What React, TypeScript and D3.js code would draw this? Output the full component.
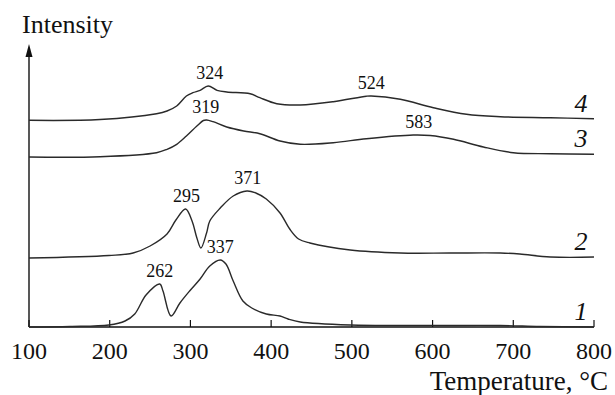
import React from "react";
import * as d3 from "d3";

// temperature (°C) and intensity (arb. units)
const temps1 = [100, 151, 199, 219, 231, 245, 262, 266, 276, 287, 299, 312, 324, 337, 344, 353, 365, 376, 394, 411, 421, 436, 498, 584, 684, 733, 800];
const int1 = [0, 0.5, 2, 6, 13, 32, 43, 36, 11, 24, 36, 48, 61, 67, 63, 46, 26, 19, 13, 11, 8, 5, 2, 1.5, 1.5, 0.5, 0];

const temps2 = [100, 199, 229, 250, 271, 282, 294, 302, 308, 313, 320, 324, 337, 353, 370, 381, 394, 411, 423, 434, 448, 498, 560, 622, 684, 708, 746, 800];
const int2 = [69, 71.5, 74, 81, 93, 107, 118, 106, 89, 79, 94, 106, 119, 131, 136, 134, 128, 114, 98, 88, 84, 77, 74, 74, 74, 73, 70, 70];

const temps3 = [100, 188, 258, 271, 283, 295, 308, 316, 320, 328, 345, 366, 386, 411, 436, 477, 518, 576, 597, 626, 663, 700, 746, 800];
const int3 = [170, 170.3, 174.3, 177.7, 182.7, 191, 201, 206.5, 207, 205.3, 200, 196, 193.3, 186, 182.7, 184.3, 188.3, 192, 191.5, 187.7, 180, 174.3, 173.3, 172.7];

const temps4 = [100, 188, 258, 271, 283, 295, 303, 312, 322, 333, 345, 374, 386, 407, 436, 477, 518, 524, 560, 601, 642, 684, 746, 800];
const int4 = [206.7, 207.5, 213.3, 216, 221, 231, 234.3, 236.7, 241, 236.7, 235, 233.3, 229.3, 223.3, 222, 225.3, 230.8, 231, 227.7, 219.3, 212.7, 210.3, 209.3, 208.3];

const seriesNames = ["1", "2", "3", "4"];
const peakLabels = [[262, 337], [295, 371], [319, 583], [324, 524]];
const xTicks = [100, 200, 300, 400, 500, 600, 700, 800];

const seriesTemps = [temps1, temps2, temps3, temps4];
const seriesInts = [int1, int2, int3, int4];

const W = 615;
const H = 395;
const serif = "'Liberation Serif', 'Times New Roman', serif";
const txt = { fontFamily: serif, fill: "#111" };

export default function App() {
  const x = d3.scaleLinear().domain([100, 800]).range([29, 594]);
  const y = d3.scaleLinear().domain([0, 280]).range([327, 47]);

  const line = d3
    .line<[number, number]>()
    .x((d) => x(d[0]))
    .y((d) => y(d[1]))
    .curve(d3.curveCatmullRom.alpha(0.5));

  const axisY = y(0);

  return (
    <svg
      width={W}
      height={H}
      style={{ position: "absolute", left: 0, top: 0, background: "#fff", fontFamily: serif }}
    >
      {/* y axis with arrow */}
      <line x1={x(100)} x2={x(100)} y1={axisY} y2={50} stroke="#111" strokeWidth={1.4} />
      <path
        d={`M${x(100)},${44} L${x(100) - 3.5},${57} L${x(100) + 3.5},${57} Z`}
        fill="#111"
      />
      <text x={22} y={33} fontSize={26} style={txt}>
        Intensity
      </text>

      {/* x axis */}
      <line x1={x(100)} x2={x(800)} y1={axisY} y2={axisY} stroke="#111" strokeWidth={1.4} />
      {xTicks.map((t) => (
        <g key={t}>
          <line x1={x(t)} x2={x(t)} y1={axisY} y2={axisY - 7} stroke="#111" strokeWidth={1.2} />
          <text x={x(t)} y={359} fontSize={24} textAnchor="middle" style={txt}>
            {t}
          </text>
        </g>
      ))}
      <text x={608} y={390} fontSize={27} textAnchor="end" style={txt}>
        Temperature, °C
      </text>

      {/* curves */}
      {seriesTemps.map((temps, i) => {
        const pts = temps.map((t, j) => [t, seriesInts[i][j]] as [number, number]);
        const last = pts[pts.length - 1];
        return (
          <g key={i}>
            <path d={line(pts) || ""} fill="none" stroke="#2a2a2a" strokeWidth={1.4} />
            <text
              x={581}
              y={y(last[1]) - 7}
              fontSize={26}
              fontStyle="italic"
              textAnchor="middle"
              style={txt}
            >
              {seriesNames[i]}
            </text>
            {peakLabels[i].map((p) => {
              const near = pts.reduce((a, b) => (Math.abs(b[0] - p) < Math.abs(a[0] - p) ? b : a));
              return (
                <text
                  key={p}
                  x={x(p)}
                  y={y(near[1]) - 7}
                  fontSize={18}
                  textAnchor="middle"
                  style={txt}
                >
                  {p}
                </text>
              );
            })}
          </g>
        );
      })}
    </svg>
  );
}
